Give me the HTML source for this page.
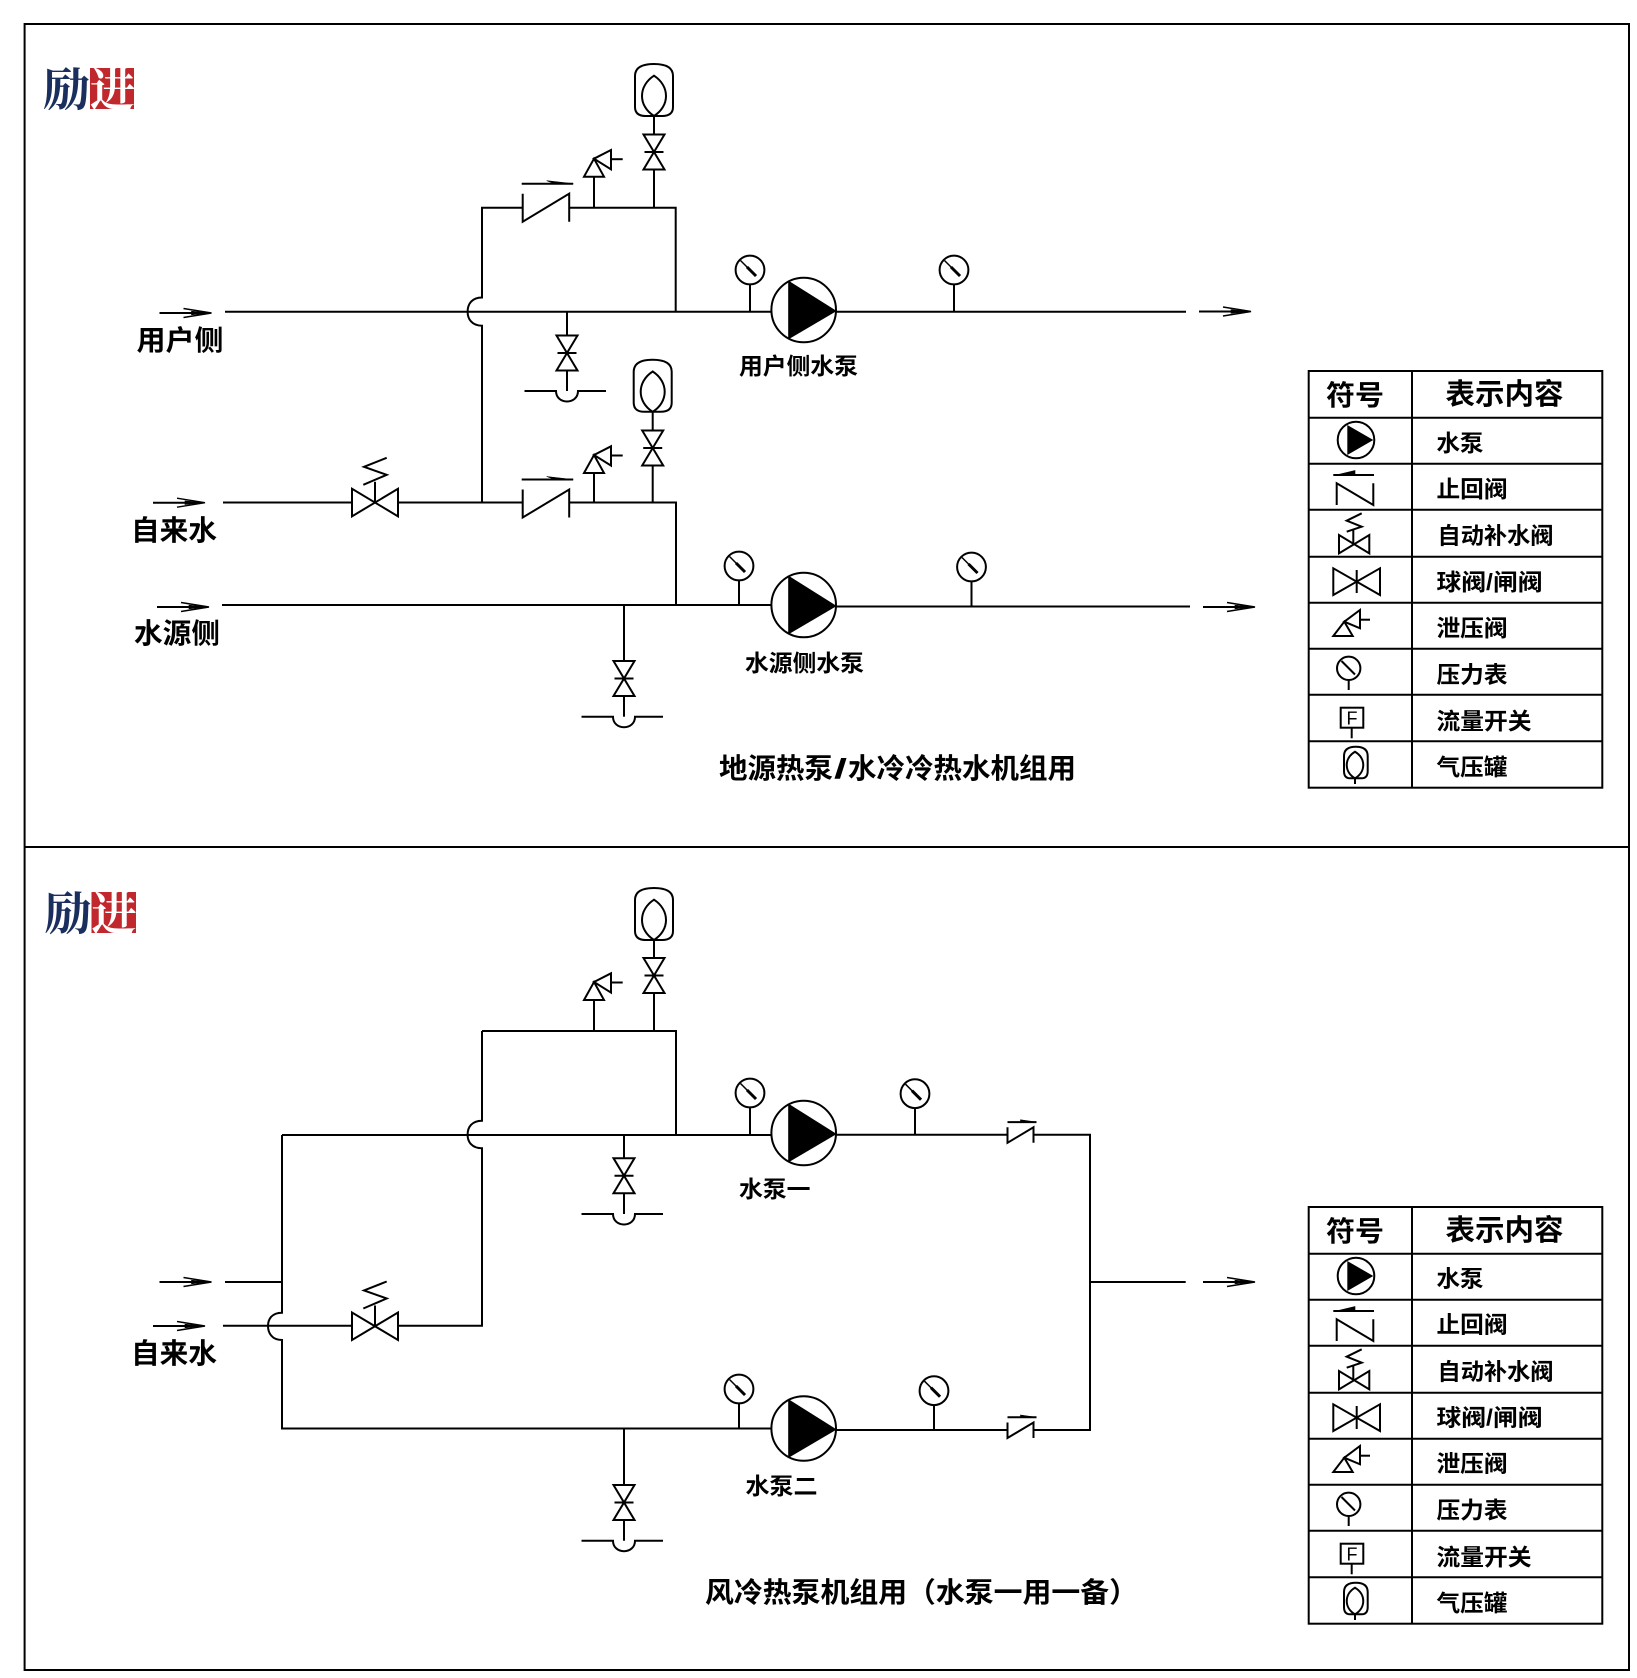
<!DOCTYPE html>
<html lang="zh"><head><meta charset="utf-8"><title>水泵系统原理图</title>
<style>
html,body{margin:0;padding:0;background:#fff}
svg{display:block}
.l{fill:none;stroke:#000;stroke-width:2}
.t{font-family:"Liberation Sans","Noto Sans CJK SC",sans-serif;font-weight:700;fill:#000}
.lg{font-family:"Liberation Serif","Noto Serif CJK SC",serif;font-weight:700}
</style></head><body>
<svg width="1637" height="1678" viewBox="0 0 1637 1678" xmlns="http://www.w3.org/2000/svg">
<defs>
<g id="gauge" class="l"><circle r="14.4" fill="#fff"/><path d="M-9.5-9.5L6 6" stroke-width="1.5"/><path d="M-3-3L6 6" stroke-width="3"/></g>
<g id="pump"><circle r="32.3" fill="#fff" stroke="#000" stroke-width="2"/><path d="M-15.5-29.5L33 1L-15.5 29.5Z" fill="#000"/></g>
<g id="vv" class="l"><path d="M-10.5-17.5H10.5L-10.5 17.5H10.5Z" fill="#fff"/><path d="M-9.5 0H9.5"/></g>
<g id="relief" class="l"><path d="M0 0L10 18H-10Z"/><path d="M0 0L17-8.7V10.6Z"/><path d="M17 .5H28.7"/></g>
<g id="tank" class="l"><path d="M-19-40Q-19-52 0-52Q19-52 19-40V-9Q19 0 8 0H-8Q-19 0-19-9Z" fill="#fff"/><path d="M0-40.3C-16-30-16-10 0 0C16-10 16-30 0-40.3Z"/></g>
<g id="check" class="l"><path d="M0-14V14L46.5-14V14"/><path d="M-1-24H50.5"/><path d="M24-27L50.5-24H32Z" fill="#000" stroke-width=".6"/></g>
<g id="schk" class="l"><path d="M0-7.5V8L26-7.5V8"/><path d="M0-12.7H29"/><path d="M13-15L29-12.7H13Z" fill="#000" stroke-width=".6"/></g>
<g id="av" class="l"><path d="M-23-13.5V14L23-13.5V14Z" fill="#fff"/><path d="M0 0V-20.5"/><path d="M-11.7-17.5L11.7-27.5L-11-35.5L11.7-44.5"/></g>
<g id="arr" class="l"><path d="M0 0H46"/><path d="M24-4.5L52 0L24 4.5" stroke-width="1.4"/><path d="M32-1.8L52 0L32 1.8Z" fill="#000" stroke-width=".6"/></g>
<g id="drain" class="l"><path d="M-42.5 0H-11C-11 14 11 14 11 0H39"/></g>
<g id="tbl">
<g class="l" fill="none" stroke-width="2">
<rect x="1308.7" y="371" width="293.6" height="416.7"/>
<path d="M1412 371V787.7M1308.7 417.7H1602.3M1308.7 463.7H1602.3M1308.7 509.7H1602.3M1308.7 556.7H1602.3M1308.7 602.7H1602.3M1308.7 648.7H1602.3M1308.7 694.7H1602.3M1308.7 741.3H1602.3"/>
</g>
<circle cx="1356" cy="440" r="18.3" fill="#fff" stroke="#000" stroke-width="2"/>
<path d="M1347.3 425L1373.3 440L1347.3 455Z" fill="#000"/>
<g class="l">
<path d="M1333.3 475H1374"/><path d="M1336 475L1355 470.5V475Z" fill="#000" stroke-width=".6"/>
<path d="M1336.7 505V483.3L1373.3 505V483.3"/>
<path d="M1339 535V553.3L1369.3 535V553.3Z"/><path d="M1353.3 544V530"/>
<path d="M1361.7 513.3L1346.7 520.7L1361.7 526.7L1346.7 531.7"/>
<path d="M1333.3 568.3V595L1380 568.3V595Z"/><path d="M1356.7 570V593"/>
<path d="M1344.3 621.7L1352.7 636H1333.3Z"/><path d="M1344.3 621.7L1360 610V628.3Z"/><path d="M1360 619.7H1370"/>
<circle cx="1348.7" cy="668.3" r="11.7"/><path d="M1341.5 661L1355 674.5"/><path d="M1348.7 680V690"/>
<rect x="1340.7" y="707.7" width="22.6" height="20"/><path d="M1351.7 727.7V738.3"/>
<path d="M1344 756Q1344 746.7 1355.8 746.7Q1367.7 746.7 1367.7 756V771Q1367.7 778.3 1361.7 778.3H1350Q1344 778.3 1344 771Z"/>
<path d="M1355 751.7C1344 758 1344 772 1355 778.3C1366 772 1366 758 1355 751.7Z"/><path d="M1355 778.3V784"/>
</g>
</g>
</defs>
<rect width="1637" height="1678" fill="#fff"/>
<g class="l" stroke-width="2.2"><rect x="24.6" y="24" width="1604.4" height="1646"/><path d="M24.6 847H1629"/></g>

<!-- logos -->
<rect x="90" y="68" width="44" height="41" fill="#c0282e"/>
<text class="lg" x="43" y="106" font-size="46" fill="#1b2f5e" textLength="47" lengthAdjust="spacingAndGlyphs">励</text>
<text class="lg" x="90" y="106" font-size="46" fill="#fff" textLength="45" lengthAdjust="spacingAndGlyphs">进</text>
<rect x="91.5" y="892" width="44.5" height="41" fill="#c0282e"/>
<text class="lg" x="44.5" y="930" font-size="46" fill="#1b2f5e" textLength="47" lengthAdjust="spacingAndGlyphs">励</text>
<text class="lg" x="91.5" y="930" font-size="46" fill="#fff" textLength="45" lengthAdjust="spacingAndGlyphs">进</text>

<!-- TOP DIAGRAM -->
<g class="l">
<path d="M225 311.8H788M836 311.8H1186"/>
<path d="M482 503V325.7C472 325.7 467.6 319 467.6 311.7C467.6 304 472 297.5 482 297.5V207.7H522.7M569 207.7H675.7V311.8"/>
<path d="M594 207.7V176.7M654 207.7V116"/>
<path d="M567 311.8V391"/>
<path d="M750 284.3V311.8M954 284.3V311.8"/>
<path d="M223 502.5H352M398 502.5H522.7M569 502.5H676V605"/>
<path d="M594 502.5V473M652.7 502.5V411.8"/>
<path d="M222 605H790M836 606.5H1190"/>
<path d="M739 580V605M971.5 581V606.5"/>
<path d="M624 605V716.7"/>
</g>
<use href="#arr" x="159.5" y="313"/>
<use href="#arr" x="153" y="502.7"/>
<use href="#arr" x="157" y="607"/>
<use href="#arr" x="1199" y="311.5"/>
<use href="#arr" x="1203" y="607"/>
<use href="#check" x="522.7" y="207.7"/>
<use href="#check" x="522.7" y="503.5"/>
<use href="#relief" x="594" y="158.7"/>
<use href="#relief" x="594" y="455"/>
<use href="#vv" x="654" y="152"/>
<use href="#vv" x="652.7" y="448"/>
<use href="#vv" x="567" y="353"/>
<use href="#vv" x="624" y="678.5"/>
<use href="#tank" x="654" y="116"/>
<use href="#tank" x="652.7" y="411.8"/>
<use href="#drain" x="567" y="391"/>
<use href="#drain" x="624" y="716.7"/>
<use href="#gauge" x="750" y="270"/>
<use href="#gauge" x="954" y="270"/>
<use href="#gauge" x="739" y="566"/>
<use href="#gauge" x="971.5" y="567"/>
<use href="#pump" x="803.7" y="310"/>
<use href="#pump" x="803.7" y="605"/>
<use href="#av" x="375" y="502.3"/>

<text class="t" x="136.5" y="350" font-size="28" textLength="87" lengthAdjust="spacingAndGlyphs">用户侧</text>
<text class="t" x="131" y="540" font-size="28" textLength="86" lengthAdjust="spacingAndGlyphs">自来水</text>
<text class="t" x="134" y="643" font-size="28" textLength="86" lengthAdjust="spacingAndGlyphs">水源侧</text>
<text class="t" x="739" y="374" font-size="23" textLength="119" lengthAdjust="spacingAndGlyphs">用户侧水泵</text>
<text class="t" x="745" y="671" font-size="23" textLength="119" lengthAdjust="spacingAndGlyphs">水源侧水泵</text>
<text class="t" x="719" y="778" font-size="28" textLength="114" lengthAdjust="spacingAndGlyphs">地源热泵</text>
<text class="t" x="834" y="778" font-size="28" textLength="13" lengthAdjust="spacingAndGlyphs">/</text>
<text class="t" x="848" y="778" font-size="28" textLength="228" lengthAdjust="spacingAndGlyphs">水冷冷热水机组用</text>

<!-- BOTTOM DIAGRAM -->
<g class="l">
<path d="M594 1031V1000M654 1031V940"/>
<path d="M482 1031H676V1135M482 1031V1120.7C472 1120.7 467.6 1127 467.6 1134.7C467.6 1142 472 1148.3 482 1148.3V1325.7H398M352 1325.7H223"/>
<path d="M282 1135H788M836 1134.8H1007.5M1033.3 1134.8H1090V1430H1033M1007.5 1430H836M790 1428.5H282V1340C272 1340 268 1333 268 1326C268 1319 272 1312.7 282 1312.7V1135"/>
<path d="M225 1282H282M1090 1282H1185.7"/>
<path d="M624 1135V1214M624 1428.5V1540.7"/>
<path d="M750 1108V1135M915 1108V1135M739 1403V1428.5M934 1405V1430"/>
</g>
<use href="#arr" x="159.5" y="1282"/>
<use href="#arr" x="153" y="1326"/>
<use href="#arr" x="1203" y="1282"/>
<use href="#relief" x="594" y="982"/>
<use href="#vv" x="654" y="975.5"/>
<use href="#vv" x="624" y="1175.7"/>
<use href="#vv" x="624" y="1502.5"/>
<use href="#tank" x="654" y="940"/>
<use href="#drain" x="624" y="1214"/>
<use href="#drain" x="624" y="1540.7"/>
<use href="#gauge" x="750" y="1093"/>
<use href="#gauge" x="915" y="1093.7"/>
<use href="#gauge" x="739" y="1389"/>
<use href="#gauge" x="934" y="1390.7"/>
<use href="#pump" x="803.7" y="1133"/>
<use href="#pump" x="803.7" y="1428.5"/>
<use href="#av" x="375" y="1326"/>
<use href="#schk" x="1007.5" y="1134.8"/>
<use href="#schk" x="1007.5" y="1430"/>

<text class="t" x="131" y="1363" font-size="28" textLength="86" lengthAdjust="spacingAndGlyphs">自来水</text>
<text class="t" x="739" y="1197" font-size="23" textLength="71.5" lengthAdjust="spacingAndGlyphs">水泵一</text>
<text class="t" x="745.5" y="1494" font-size="23" textLength="72" lengthAdjust="spacingAndGlyphs">水泵二</text>
<text class="t" x="705" y="1602" font-size="28" textLength="433" lengthAdjust="spacingAndGlyphs">风冷热泵机组用（水泵一用一备）</text>

<!-- TABLE 1 -->
<use href="#tbl"/>
<text class="t" x="1326" y="405" font-size="28" textLength="58" lengthAdjust="spacingAndGlyphs">符号</text>
<text class="t" x="1445.5" y="404" font-size="29" textLength="118" lengthAdjust="spacingAndGlyphs">表示内容</text>
<text class="t" x="1436.5" y="451" font-size="23" textLength="47" lengthAdjust="spacingAndGlyphs">水泵</text>
<text class="t" x="1436.5" y="497" font-size="23" textLength="71" lengthAdjust="spacingAndGlyphs">止回阀</text>
<text class="t" x="1437.5" y="543.5" font-size="23" textLength="116" lengthAdjust="spacingAndGlyphs">自动补水阀</text>
<text class="t" x="1436.5" y="590" font-size="23" textLength="106" lengthAdjust="spacingAndGlyphs">球阀/闸阀</text>
<text class="t" x="1436.5" y="636" font-size="23" textLength="71" lengthAdjust="spacingAndGlyphs">泄压阀</text>
<text class="t" x="1436.5" y="682.5" font-size="23" textLength="71" lengthAdjust="spacingAndGlyphs">压力表</text>
<text class="t" x="1436.5" y="729" font-size="23" textLength="95" lengthAdjust="spacingAndGlyphs">流量开关</text>
<text class="t" x="1436.5" y="775" font-size="23" textLength="71" lengthAdjust="spacingAndGlyphs">气压罐</text>
<text x="1352" y="724.5" font-family="'Liberation Sans',sans-serif" font-size="18" text-anchor="middle">F</text>

<!-- TABLE 2 -->
<use href="#tbl" y="836"/>
<text class="t" x="1326" y="1241" font-size="28" textLength="58" lengthAdjust="spacingAndGlyphs">符号</text>
<text class="t" x="1445.5" y="1240" font-size="29" textLength="118" lengthAdjust="spacingAndGlyphs">表示内容</text>
<text class="t" x="1436.5" y="1286.5" font-size="23" textLength="47" lengthAdjust="spacingAndGlyphs">水泵</text>
<text class="t" x="1436.5" y="1332.5" font-size="23" textLength="71" lengthAdjust="spacingAndGlyphs">止回阀</text>
<text class="t" x="1437.5" y="1379.5" font-size="23" textLength="116" lengthAdjust="spacingAndGlyphs">自动补水阀</text>
<text class="t" x="1436.5" y="1425.5" font-size="23" textLength="106" lengthAdjust="spacingAndGlyphs">球阀/闸阀</text>
<text class="t" x="1436.5" y="1471.5" font-size="23" textLength="71" lengthAdjust="spacingAndGlyphs">泄压阀</text>
<text class="t" x="1436.5" y="1518" font-size="23" textLength="71" lengthAdjust="spacingAndGlyphs">压力表</text>
<text class="t" x="1436.5" y="1565" font-size="23" textLength="95" lengthAdjust="spacingAndGlyphs">流量开关</text>
<text class="t" x="1436.5" y="1611" font-size="23" textLength="71" lengthAdjust="spacingAndGlyphs">气压罐</text>
<text x="1352" y="1560.5" font-family="'Liberation Sans',sans-serif" font-size="18" text-anchor="middle">F</text>
</svg>
</body></html>
